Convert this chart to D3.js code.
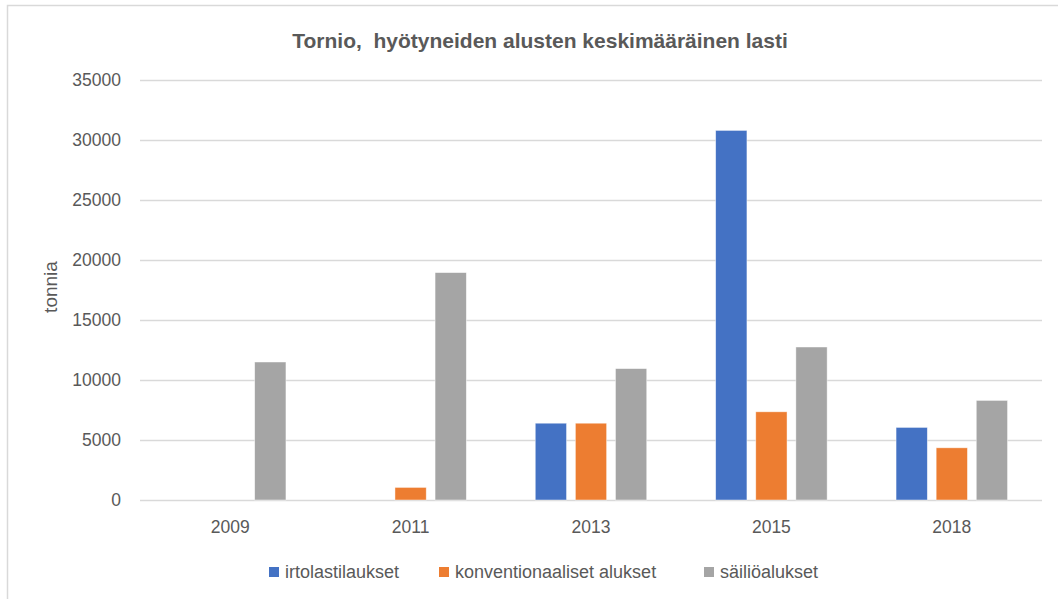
<!DOCTYPE html>
<html>
<head>
<meta charset="utf-8">
<script src="https://cdn.jsdelivr.net/npm/d3@7"></script>
<style>
  body { margin: 0; background: #fff; }
  svg { display: block; font-family: "Liberation Sans", sans-serif; }
</style>
</head>
<body>
<div id="chart"></div>
<script>
const years = ["2009", "2011", "2013", "2015", "2018"]
const seriesNames = ["irtolastilaukset", "konventionaaliset alukset", "säiliöalukset"]
const irtolasti = [null, null, 6400, 30800, 6050]
const konventionaali = [null, 1050, 6400, 7350, 4350]
const sailio = [11500, 18950, 10950, 12750, 8300]
const colors = ["#4472C4", "#ED7D31", "#A5A5A5"]
const yTicks = [0, 5000, 10000, 15000, 20000, 25000, 30000, 35000]

const width = 1058, height = 599
const margin = {top: 80, right: 16, bottom: 99, left: 140}

const svg = d3.select("#chart").append("svg")
  .attr("width", width)
  .attr("height", height)

// outer chart border (cropped on right/bottom in the original)
svg.append("rect")
  .attr("x", 7.5).attr("y", 5.5)
  .attr("width", width + 10).attr("height", height + 10)
  .attr("fill", "none")
  .attr("stroke", "#d9d9d9")
  .attr("stroke-width", 1.5)

const x0 = d3.scaleBand(years, [margin.left, width - margin.right])
const groupPad = x0.bandwidth() * 0.191
const x1 = d3.scaleBand(seriesNames, [groupPad, x0.bandwidth() - groupPad]).paddingInner(0.22)
const y = d3.scaleLinear([0, 35000], [height - margin.bottom, margin.top])

// gridlines
svg.append("g")
  .selectAll("line")
  .data(yTicks)
  .join("line")
    .attr("x1", margin.left)
    .attr("x2", width - margin.right)
    .attr("y1", d => Math.round(y(d)) + 0.5)
    .attr("y2", d => Math.round(y(d)) + 0.5)
    .attr("stroke", "#d9d9d9")
    .attr("stroke-width", 1.3)

// y tick labels
svg.append("g")
  .attr("font-size", 17.5)
  .attr("fill", "#595959")
  .attr("text-anchor", "end")
  .selectAll("text")
  .data(yTicks)
  .join("text")
    .attr("x", 121)
    .attr("y", d => y(d))
    .attr("dy", "0.35em")
    .text(d => d)

// bars
const values = [irtolasti, konventionaali, sailio]
const rows = years.flatMap((yr, i) => seriesNames.map((s, j) => ({year: yr, series: s, value: values[j][i], color: colors[j]})))
  .filter(d => d.value != null)

svg.append("g")
  .selectAll("rect")
  .data(rows)
  .join("rect")
    .attr("x", d => x0(d.year) + x1(d.series))
    .attr("y", d => y(d.value))
    .attr("width", x1.bandwidth())
    .attr("height", d => y(0) - y(d.value))
    .attr("fill", d => d.color)
    .attr("stroke", "#fff")
    .attr("stroke-opacity", 0.6)
    .attr("stroke-width", 0.75)

// x labels
svg.append("g")
  .attr("font-size", 17.5)
  .attr("fill", "#595959")
  .attr("text-anchor", "middle")
  .selectAll("text")
  .data(years)
  .join("text")
    .attr("x", d => x0(d) + x0.bandwidth() / 2)
    .attr("y", 533)
    .text(d => d)

// y axis title
svg.append("text")
  .attr("transform", "translate(57,287) rotate(-90)")
  .attr("text-anchor", "middle")
  .attr("font-size", 19)
  .attr("fill", "#595959")
  .text("tonnia")

// chart title (double space kept as in the original)
svg.append("text")
  .attr("x", 540)
  .attr("y", 48)
  .attr("text-anchor", "middle")
  .attr("font-size", 21)
  .attr("font-weight", "bold")
  .attr("fill", "#595959")
  .style("white-space", "pre")
  .text("Tornio,  hyötyneiden alusten keskimääräinen lasti")

// legend
const legendX = [269, 439, 704]
const legend = svg.append("g")
  .attr("font-size", 18)
  .attr("fill", "#595959")
  .selectAll("g")
  .data(seriesNames)
  .join("g")
    .attr("transform", (d, i) => `translate(${legendX[i]},572)`)
legend.append("rect")
  .attr("x", 0).attr("y", -5)
  .attr("width", 10).attr("height", 10)
  .attr("fill", (d, i) => colors[i])
legend.append("text")
  .attr("x", 16)
  .attr("dy", "0.35em")
  .text(d => d)
</script>
</body>
</html>
